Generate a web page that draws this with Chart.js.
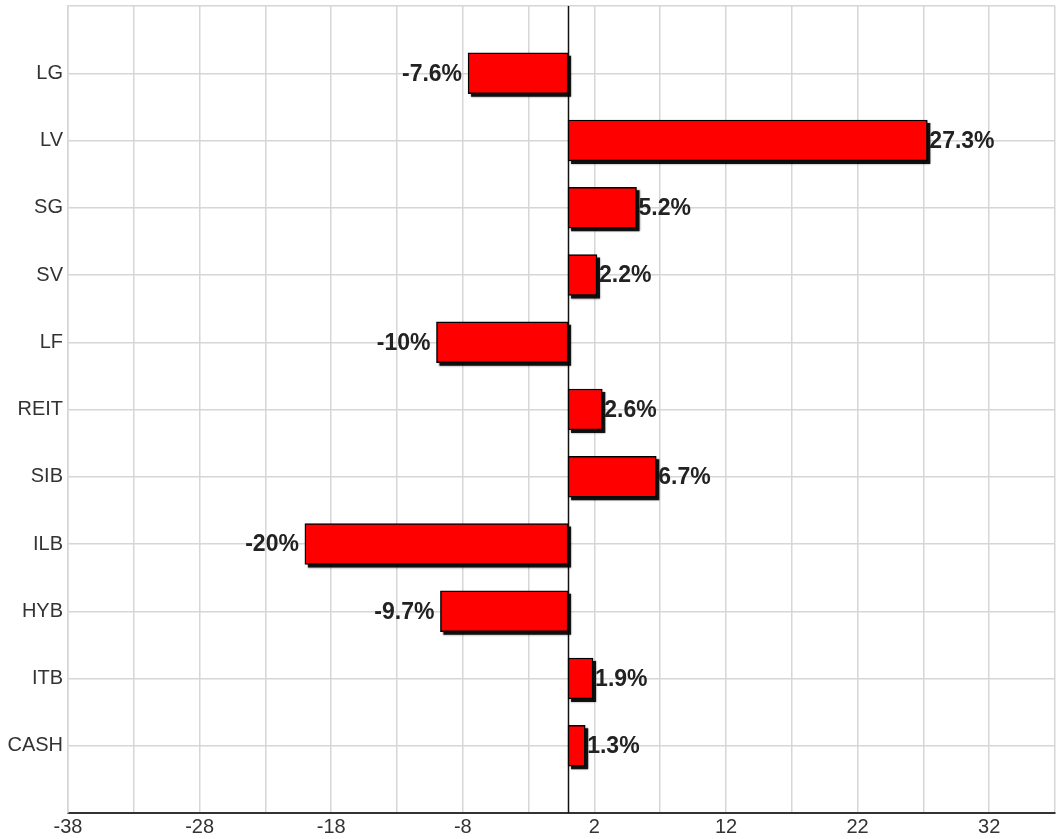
<!DOCTYPE html>
<html>
<head>
<meta charset="utf-8">
<script src="https://cdn.jsdelivr.net/npm/chart.js@4.4.1/dist/chart.umd.min.js"></script>
<style>
  html, body { margin: 0; padding: 0; background: #fff; }
  #wrap { width: 1058px; height: 839px; position: relative; }
</style>
</head>
<body>
<div id="wrap"><canvas id="myChart"></canvas></div>
<script>
// datos del gráfico
const categories = ['LG', 'LV', 'SG', 'SV', 'LF', 'REIT', 'SIB', 'ILB', 'HYB', 'ITB', 'CASH'];
const values = [-7.6, 27.3, 5.2, 2.2, -10, 2.6, 6.7, -20, -9.7, 1.9, 1.3];
const valueLabels = ['-7.6%', '27.3%', '5.2%', '2.2%', '-10%', '2.6%', '6.7%', '-20%', '-9.7%', '1.9%', '1.3%'];
const xMin = -38;
const xMax = 37;

const fontFamily = '"Liberation Sans", Arial, Helvetica, sans-serif';

// línea del cero y sombra negra de las barras (antes de dibujar las barras)
const behindBarsPlugin = {
    id: 'behindBars',
    beforeDatasetsDraw(chart) {
        const ctx = chart.ctx;
        const x0 = Math.round(chart.scales.x.getPixelForValue(0)) + 0.5;
        ctx.save();
        ctx.strokeStyle = '#111';
        ctx.lineWidth = 1.5;
        ctx.beginPath();
        ctx.moveTo(x0, chart.chartArea.top);
        ctx.lineTo(x0, chart.chartArea.bottom);
        ctx.stroke();

        ctx.fillStyle = 'rgba(0,0,0,0.9)';
        ctx.shadowColor = 'rgba(0,0,0,0.5)';
        ctx.shadowBlur = 2;
        chart.getDatasetMeta(0).data.forEach(bar => {
            const p = bar.getProps(['x', 'y', 'base', 'height'], true);
            const left = Math.min(p.x, p.base);
            const w = Math.abs(p.x - p.base);
            ctx.fillRect(left + 3, p.y - p.height / 2 + 3, w, p.height);
        });
        ctx.restore();
    }
};

// etiquetas de valores
const valueLabelPlugin = {
    id: 'valueLabels',
    afterDatasetsDraw(chart) {
        const ctx = chart.ctx;
        const meta = chart.getDatasetMeta(0);
        ctx.save();
        ctx.font = 'bold 23px ' + fontFamily;
        ctx.fillStyle = '#222';
        ctx.textBaseline = 'middle';
        meta.data.forEach((bar, i) => {
            if (values[i] >= 0) {
                ctx.textAlign = 'left';
                ctx.fillText(valueLabels[i], bar.x + 2, bar.y + 1);
            } else {
                ctx.textAlign = 'right';
                ctx.fillText(valueLabels[i], bar.x - 6, bar.y + 1);
            }
        });
        ctx.restore();
    }
};

const ctx = document.getElementById('myChart').getContext('2d');
const myChart = new Chart(ctx, {
    type: 'bar',
    data: {
        datasets: [{
            data: values.map((v, i) => ({ x: v, y: i })),
            backgroundColor: '#ff0000',
            borderColor: '#000',
            borderWidth: 1.5,
            borderSkipped: false,
            barThickness: 41
        }]
    },
    options: {
        indexAxis: 'y',
        responsive: true,
        maintainAspectRatio: false,
        animation: false,
        layout: { padding: { top: 6, right: 3, left: 0, bottom: 0 } },
        plugins: {
            legend: { display: false },
            tooltip: { enabled: false }
        },
        scales: {
            x: {
                type: 'linear',
                min: xMin,
                max: xMax,
                grid: { color: '#d6d6d6', lineWidth: 1.5, drawTicks: false },
                border: { color: '#333', width: 2 },
                ticks: {
                    stepSize: 5,
                    autoSkip: false,
                    maxRotation: 0,
                    padding: 2,
                    color: '#333',
                    font: { family: fontFamily, size: 20 },
                    callback: v => (Math.round(v - xMin) % 10 === 0 ? Math.round(v) : '')
                },
                afterFit: scale => { scale.height = 26; }
            },
            y: {
                type: 'linear',
                min: -1,
                max: 11,
                reverse: true,
                offset: false,
                grid: { color: '#d6d6d6', lineWidth: 1.5, drawTicks: false, offset: false },
                border: { color: '#d6d6d6', width: 1.5 },
                ticks: {
                    stepSize: 1,
                    autoSkip: false,
                    padding: 5,
                    color: '#333',
                    // las marcas vacías de los extremos no reservan espacio
                    font: c => ({ family: fontFamily, size: (c.tick && categories[c.tick.value]) ? 20 : 1 }),
                    callback: v => categories[v] || ''
                },
                afterFit: scale => { scale.width = 68; }
            }
        }
    },
    plugins: [behindBarsPlugin, valueLabelPlugin]
});
</script>
</body>
</html>
